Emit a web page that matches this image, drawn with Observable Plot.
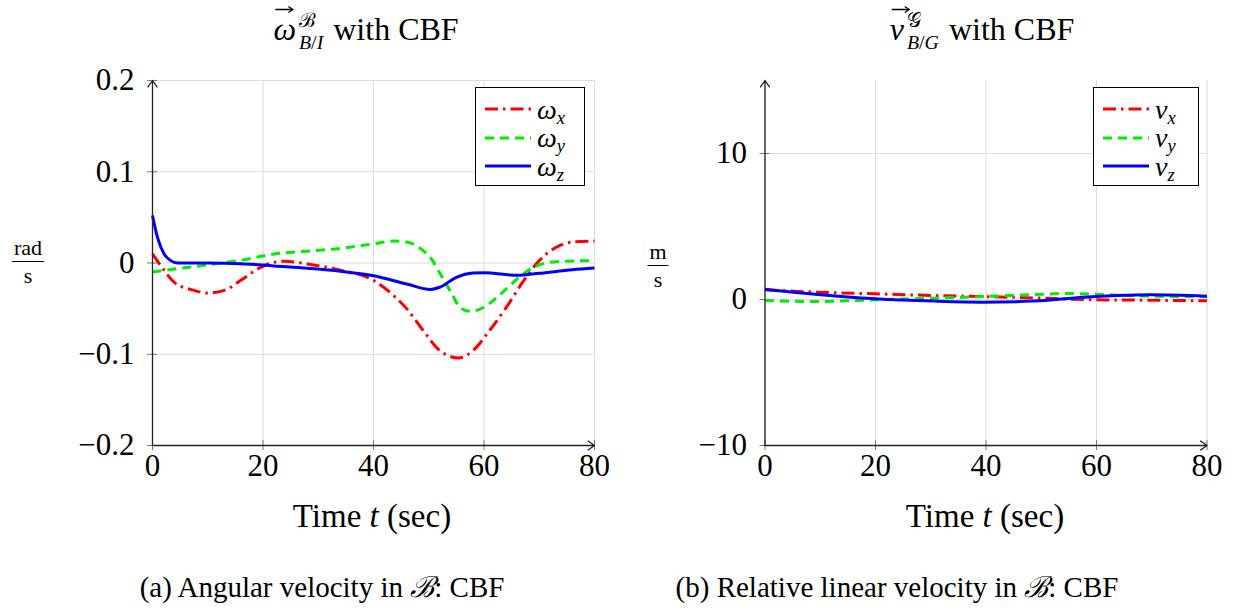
<!DOCTYPE html>
<html>
<head>
<meta charset="utf-8">
<script src="https://cdn.jsdelivr.net/npm/d3@7"></script>
<script src="https://cdn.jsdelivr.net/npm/@observablehq/plot@0.6"></script>
<style>
  body { margin: 0; background: #fff; }
  #fig { position: relative; width: 1235px; height: 611px; overflow: hidden;
         font-family: "Liberation Serif", "DejaVu Serif", serif; color: #000; }
  .abs { position: absolute; white-space: nowrap; }
  .panel { position: absolute; top: 0; }
  .title { font-size: 32px; transform: translateX(-50%); line-height: 1.2; }
  .xlabel { font-size: 33px; transform: translateX(-50%); }
  .caption { font-size: 29px; transform: translateX(-50%); }
  .ylabel { font-size: 22px; text-align: center; transform: translate(-50%, -50%); line-height: 1; }
  .ylabel .num { display: block; border-bottom: 1.3px solid #000; padding: 0 2px 2px 2px; }
  .ylabel .den { display: block; padding-top: 3px; }
  .legend { border: 1.3px solid #000; background: #fff; box-sizing: border-box; padding: 7px 0 0 9px; }
  .legend .row { display: flex; align-items: center; height: 28.5px; }
  .legend svg { margin-right: 6px; }
  .legend .lab { font-size: 28px; font-style: italic; line-height: 0.9; }
  .legend .lab sub { font-size: 0.66em; vertical-align: -0.25em; line-height: 0; }
  .vec { position: relative; display: inline-block; font-style: italic; }
  .vec svg { position: absolute; left: 1px; top: -5px; }
  .stack { display: inline-block; vertical-align: -0.45em; line-height: 1.0; font-size: 0.62em; margin-left: 3px; margin-right: 2px; }
  .stack span { display: block; }
  .stack .sup { margin-bottom: 2px; }
  i { font-style: italic; }
</style>
</head>
<body>
<div id="fig"></div>
<script>
// ---------------- data ----------------
const xDomain = [0, 80];
const xTicks = [0, 20, 40, 60, 80];

// Left panel: angular velocity (rad/s)
const yDomainA = [-0.2, 0.2];
const yTicksA = [-0.2, -0.1, 0, 0.1, 0.2];
const yTickLabelsA = ["\u22120.2", "\u22120.1", "0", "0.1", "0.2"];

const omegaXt = [0, 1.5, 3.9, 7.5, 10, 13, 16, 19, 22, 23.8, 28, 34, 40, 43.7, 46, 49, 52, 55.4, 58, 61, 64, 67, 70, 73, 76, 80];
const omegaX  = [0.010, -0.003, -0.021, -0.030, -0.033, -0.030, -0.019, -0.0066, 0.0007, 0.002, -0.001, -0.008, -0.019, -0.036, -0.050, -0.074, -0.096, -0.104, -0.096, -0.074, -0.049, -0.021, 0.0026, 0.017, 0.023, 0.024];

const omegaYt = [0, 4, 10, 16, 22, 28, 34, 40, 43.7, 46, 49, 50.3, 52.1, 54.2, 55.7, 57.5, 60, 63, 66, 69, 73, 80];
const omegaY  = [-0.0099, -0.0066, -0.002, 0.003, 0.0099, 0.013, 0.016, 0.021, 0.024, 0.023, 0.0135, 0.006, -0.012, -0.034, -0.049, -0.053, -0.0485, -0.034, -0.0175, -0.0047, 0.0015, 0.0026];

const omegaZt = [0, 0.9, 2.1, 3.3, 4.5, 10, 16, 22, 28, 34, 40, 46, 50.3, 52, 55, 58, 60, 66, 70, 76, 80];
const omegaZ  = [0.052, 0.028, 0.0099, 0.0026, 0, 0, -0.0007, -0.0033, -0.0058, -0.009, -0.014, -0.023, -0.029, -0.0266, -0.0157, -0.011, -0.0106, -0.0135, -0.0113, -0.0073, -0.0055];

// Right panel: relative linear velocity (m/s)
const yDomainB = [-10, 15];
const yTicksB = [-10, 0, 10];
const yTickLabelsB = ["\u221210", "0", "10"];

const velXt = [0, 9.5, 20, 30.6, 39.6, 48.6, 57.7, 69.7, 80];
const velX  = [0.66, 0.5, 0.39, 0.27, 0.2, 0.11, 0, -0.05, -0.09];

const velYt = [0, 9.5, 20, 30.6, 39.6, 48.6, 54.7, 60.7, 69.7, 80];
const velY  = [-0.07, -0.14, -0.02, 0.09, 0.2, 0.34, 0.41, 0.34, 0.23, 0.2];

const velZt = [0, 9.5, 20, 30.6, 39.6, 48.6, 57.7, 63.7, 69.7, 80];
const velZ  = [0.7, 0.34, 0.05, -0.11, -0.18, -0.11, 0.16, 0.27, 0.32, 0.23];

const seriesColors = ["#ff0000", "#00ee00", "#0000ff"];
const seriesDash = ["13,5,2.5,5", "9,6", null];

// ---------------- drawing ----------------
const fig = document.getElementById("fig");
const zip = (ts, vs) => ts.map((t, i) => ({t, v: vs[i]}));

function panel({left, width, mLeft, mRight, yDomain, yTicks, yLabels, gridYTicks, series}) {
  const fmt = d => yLabels[yTicks.indexOf(d)];
  const marks = [
    Plot.gridX({ticks: xTicks, stroke: "#dcdcdc", strokeOpacity: 1, strokeWidth: 1}),
    Plot.gridY({ticks: gridYTicks, stroke: "#dcdcdc", strokeOpacity: 1, strokeWidth: 1}),
    Plot.axisX({ticks: xTicks, tickSize: 0, tickPadding: 8, tickFormat: d => String(d), label: null, fontSize: 31}),
    Plot.axisY({ticks: yTicks, tickSize: 0, tickPadding: 18, tickFormat: fmt, label: null, fontSize: 31}),
    // small tick marks crossing the axes
    Plot.axisX({ticks: xTicks, tickSize: 10, dy: -5, tickFormat: () => "", label: null, stroke: "#777"}),
    Plot.axisY({ticks: yTicks, tickSize: 10, dx: 5, tickFormat: () => "", label: null, stroke: "#777"}),
  ];
  series.forEach((s, i) => {
    marks.push(Plot.line(s, {x: "t", y: "v", stroke: seriesColors[i], strokeWidth: 3,
      strokeDasharray: seriesDash[i] || undefined, curve: "monotone-x", strokeLinecap: "butt"}));
  });
  // axis lines with arrow heads
  marks.push(Plot.arrow([{x1: xDomain[0], y1: yDomain[0], x2: xDomain[0], y2: yDomain[1]}],
    {x1: "x1", y1: "y1", x2: "x2", y2: "y2", stroke: "#222", strokeWidth: 1.3, headLength: 9, headAngle: 70}));
  marks.push(Plot.arrow([{x1: xDomain[0], y1: yDomain[0], x2: xDomain[1], y2: yDomain[0]}],
    {x1: "x1", y1: "y1", x2: "x2", y2: "y2", stroke: "#222", strokeWidth: 1.3, headLength: 9, headAngle: 70}));

  const svg = Plot.plot({
    width, height: 611,
    marginLeft: mLeft, marginRight: mRight, marginTop: 80, marginBottom: 166,
    x: {domain: xDomain, label: null},
    y: {domain: yDomain, label: null},
    style: {fontFamily: '"Liberation Serif", "DejaVu Serif", serif', fontSize: "31px", background: "transparent", color: "#000", overflow: "visible"},
    marks
  });
  svg.classList.add("panel");
  svg.style.left = left + "px";
  fig.appendChild(svg);
}

panel({left: 0, width: 617, mLeft: 152, mRight: 23, yDomain: yDomainA, yTicks: yTicksA, yLabels: yTickLabelsA,
  gridYTicks: yTicksA, series: [zip(omegaXt, omegaX), zip(omegaYt, omegaY), zip(omegaZt, omegaZ)]});
panel({left: 618, width: 617, mLeft: 146.5, mRight: 28.5, yDomain: yDomainB, yTicks: yTicksB, yLabels: yTickLabelsB,
  gridYTicks: yTicksB, series: [zip(velXt, velX), zip(velYt, velY), zip(velZt, velZ)]});

// ---------------- text ----------------
function add(html, cls, x, y) {
  const d = document.createElement("div");
  d.className = "abs " + cls;
  d.style.left = x + "px"; d.style.top = y + "px";
  d.innerHTML = html;
  fig.appendChild(d);
  return d;
}
const vecArrow = '<svg width="20" height="9" viewBox="0 0 20 9"><line x1="1" y1="4.5" x2="18" y2="4.5" stroke="#000" stroke-width="1.3"/><path d="M14,1.5 L18.5,4.5 L14,7.5" fill="none" stroke="#000" stroke-width="1.2"/></svg>';
add('<span class="vec">\u03c9' + vecArrow + '</span><span class="stack"><span class="sup">\u212c</span><span><i>B</i>/<i>I</i></span></span> with CBF', "title", 366, 10);
add('<span class="vec">v' + vecArrow + '</span><span class="stack"><span class="sup">\ud835\udca2</span><span><i>B</i>/<i>G</i></span></span> with CBF', "title", 982, 10);

add('Time <i>t</i> (sec)', "xlabel", 372, 498);
add('Time <i>t</i> (sec)', "xlabel", 985, 498);

add('<span class="num">rad</span><span class="den">s</span>', "ylabel", 28, 262);
add('<span class="num">m</span><span class="den">s</span>', "ylabel", 658, 266);

add('(a) Angular velocity in <i>\u212c</i>: CBF', "caption", 322, 566);
add('(b) Relative linear velocity in <i>\u212c</i>: CBF', "caption", 897, 566);

function legend(x, y, w, h, base) {
  const d = add("", "legend", x, y);
  d.style.width = w + "px"; d.style.height = h + "px";
  const subs = ["x", "y", "z"];
  subs.forEach((s, i) => {
    const dash = seriesDash[i] ? `stroke-dasharray="${seriesDash[i]}"` : "";
    d.insertAdjacentHTML("beforeend",
      `<div class="row"><svg width="46" height="10"><line x1="0" y1="5" x2="46" y2="5" stroke="${seriesColors[i]}" stroke-width="3" ${dash}/></svg><span class="lab">${base}<sub>${s}</sub></span></div>`);
  });
}
legend(475, 87, 110, 99, "\u03c9");
legend(1093, 87, 106, 99, "v");
</script>
</body>
</html>
